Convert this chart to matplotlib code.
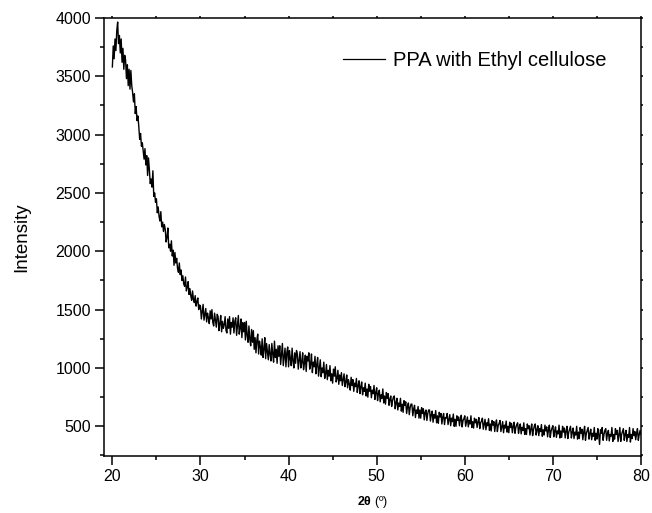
import numpy as np
import matplotlib
matplotlib.use("Agg")
import matplotlib.pyplot as plt
from matplotlib.ticker import MultipleLocator

plt.rcParams['font.family'] = ['Liberation Sans', 'DejaVu Sans']
plt.rcParams['mathtext.fontset'] = 'custom'
plt.rcParams['mathtext.bf'] = 'Liberation Sans:bold'
plt.rcParams['mathtext.rm'] = 'Liberation Sans'

# XRD scan: 20 to 80 deg, step 0.1 deg (one row = one degree)
scan_start = 20.0
scan_step = 0.1
intensity = [
    3580, 3760, 3650, 3820, 3720, 3890, 3965, 3780, 3850, 3700,
    3820, 3620, 3740, 3560, 3680, 3640, 3480, 3600, 3420, 3560,
    3390, 3550, 3420, 3360, 3280, 3350, 3180, 3240, 3120, 3160,
    3070, 2960, 3010, 2900, 2930, 2860, 2790, 2880, 2740, 2820,
    2650, 2800, 2700, 2580, 2620, 2550, 2690, 2470, 2500, 2420,
    2450, 2330, 2380, 2300, 2260, 2340, 2210, 2250, 2170, 2230,
    2190, 2080, 2120, 2200, 2030, 2060, 2000, 2090, 1960, 2010,
    1880, 1990, 1900, 1940, 1850, 1820, 1900, 1800, 1840, 1750,
    1790, 1720, 1700, 1780, 1660, 1690, 1740, 1630, 1680, 1620,
    1580, 1660, 1590, 1560, 1620, 1530, 1570, 1600, 1500, 1540,
    1530, 1420, 1480, 1545, 1410, 1460, 1510, 1395, 1470, 1430,
    1380, 1490, 1420, 1500, 1390, 1360, 1470, 1410, 1350, 1460,
    1440, 1320, 1380, 1450, 1310, 1400, 1340, 1370, 1440, 1320,
    1300, 1420, 1340, 1440, 1290, 1390, 1350, 1430, 1300, 1400,
    1430, 1280, 1370, 1450, 1290, 1340, 1420, 1260, 1390, 1310,
    1390, 1240, 1400, 1280, 1220, 1360, 1250, 1190, 1330, 1220,
    1320, 1160, 1260, 1130, 1240, 1290, 1120, 1230, 1180, 1110,
    1250, 1090, 1160, 1260, 1080, 1210, 1140, 1070, 1200, 1120,
    1060, 1210, 1120, 1050, 1230, 1090, 1160, 1040, 1190, 1100,
    1190, 1030, 1120, 1210, 1020, 1100, 1170, 1010, 1130, 1180,
    1010, 1150, 1080, 1020, 1170, 1060, 1000, 1130, 1040, 1150,
    1120, 990, 1070, 1140, 1000, 1050, 1130, 985, 1040, 1110,
    970, 1100, 1060, 1130, 990, 1030, 1120, 960, 1050, 1010,
    1100, 950, 1030, 1090, 930, 1000, 1070, 925, 1000, 960,
    1050, 910, 950, 1030, 900, 980, 930, 1020, 890, 950,
    870, 990, 930, 1010, 880, 910, 980, 860, 940, 890,
    960, 850, 900, 950, 840, 880, 940, 830, 900, 860,
    810, 920, 850, 900, 800, 870, 840, 910, 790, 850,
    890, 780, 840, 880, 770, 830, 800, 870, 760, 820,
    750, 860, 800, 840, 745, 810, 780, 850, 730, 790,
    830, 720, 780, 810, 710, 770, 740, 820, 700, 760,
    690, 790, 740, 780, 680, 730, 760, 670, 720, 750,
    760, 650, 700, 740, 640, 700, 670, 740, 630, 690,
    620, 720, 680, 710, 610, 670, 700, 600, 660, 690,
    690, 590, 650, 680, 575, 640, 610, 670, 570, 640,
    570, 660, 610, 650, 555, 620, 640, 550, 610, 640,
    640, 545, 600, 630, 535, 600, 570, 635, 530, 590,
    525, 620, 580, 610, 520, 580, 610, 515, 575, 570,
    610, 515, 560, 600, 505, 570, 540, 605, 500, 560,
    500, 590, 550, 580, 505, 560, 595, 495, 550, 565,
    590, 500, 540, 580, 495, 550, 520, 590, 490, 540,
    485, 570, 530, 560, 490, 540, 575, 480, 530, 545,
    570, 475, 520, 560, 470, 530, 505, 565, 465, 520,
    460, 550, 510, 540, 455, 520, 555, 455, 510, 525,
    550, 455, 500, 540, 445, 510, 485, 545, 450, 500,
    445, 535, 490, 525, 445, 500, 535, 440, 490, 515,
    530, 440, 490, 520, 435, 490, 465, 530, 430, 480,
    430, 520, 480, 505, 425, 480, 520, 420, 470, 505,
    520, 425, 470, 505, 420, 480, 455, 515, 415, 470,
    425, 510, 460, 495, 410, 470, 510, 405, 460, 485,
    505, 410, 460, 495, 405, 460, 435, 510, 400, 460,
    405, 500, 450, 485, 400, 460, 500, 395, 450, 475,
    500, 400, 450, 485, 395, 450, 425, 500, 390, 450,
    395, 490, 440, 475, 385, 450, 500, 380, 440, 465,
    490, 390, 440, 475, 385, 440, 415, 490, 380, 440,
    390, 480, 430, 345, 470, 440, 490, 380, 430, 465,
    480, 380, 440, 465, 375, 430, 415, 490, 370, 430,
    390, 480, 430, 465, 370, 430, 490, 370, 430, 455,
    480, 380, 430, 465, 370, 430, 405, 490, 365, 430,
    395, 480, 420, 455, 385, 440, 480, 380, 430, 465,
    430,
]
two_theta = np.round(scan_start + scan_step * np.arange(len(intensity)), 2)
label = "PPA with Ethyl cellulose"

fig = plt.figure(figsize=(6.52, 5.13), dpi=100)
ax = fig.add_axes([0.1595, 0.111, 0.8236, 0.854])

ax.plot(two_theta, intensity, color='black', lw=1.0, label=label)

ax.set_xlim(19.05, 80)
ax.set_ylim(245, 4000)
ax.xaxis.set_major_locator(MultipleLocator(10))
ax.xaxis.set_minor_locator(MultipleLocator(5))
ax.yaxis.set_minor_locator(MultipleLocator(250))
ax.set_yticks(np.arange(500, 4001, 500))

for s in ax.spines.values():
    s.set_linewidth(1.1)

ax.tick_params(which='major', direction='out', length=6.5, width=1.1, pad=3,
               labelsize=11.5, top=True, right=True)
ax.tick_params(which='minor', direction='out', length=3, width=1.1,
               top=True, right=True)
# tiny ticks on the top and right axes
for t in ax.xaxis.get_ticklines(minor=False)[1::2] + ax.xaxis.get_ticklines(minor=True)[1::2]:
    t.set_markersize(1.5)
for t in ax.yaxis.get_ticklines(minor=False)[1::2] + ax.yaxis.get_ticklines(minor=True)[1::2]:
    t.set_markersize(1.5)

ax.set_ylabel("Intensity", fontsize=13.5, labelpad=18)
ax.set_xlabel(r"$\mathbf{2\theta}$ (º)", fontsize=9, labelpad=7)

leg = ax.legend(loc='upper right', frameon=False, fontsize=14.5, handlelength=2.1,
                handletextpad=0.4, bbox_to_anchor=(0.97, 0.965))
for h in leg.get_lines():
    h.set_linewidth(0.9)

fig.savefig("out.png", dpi=100)
